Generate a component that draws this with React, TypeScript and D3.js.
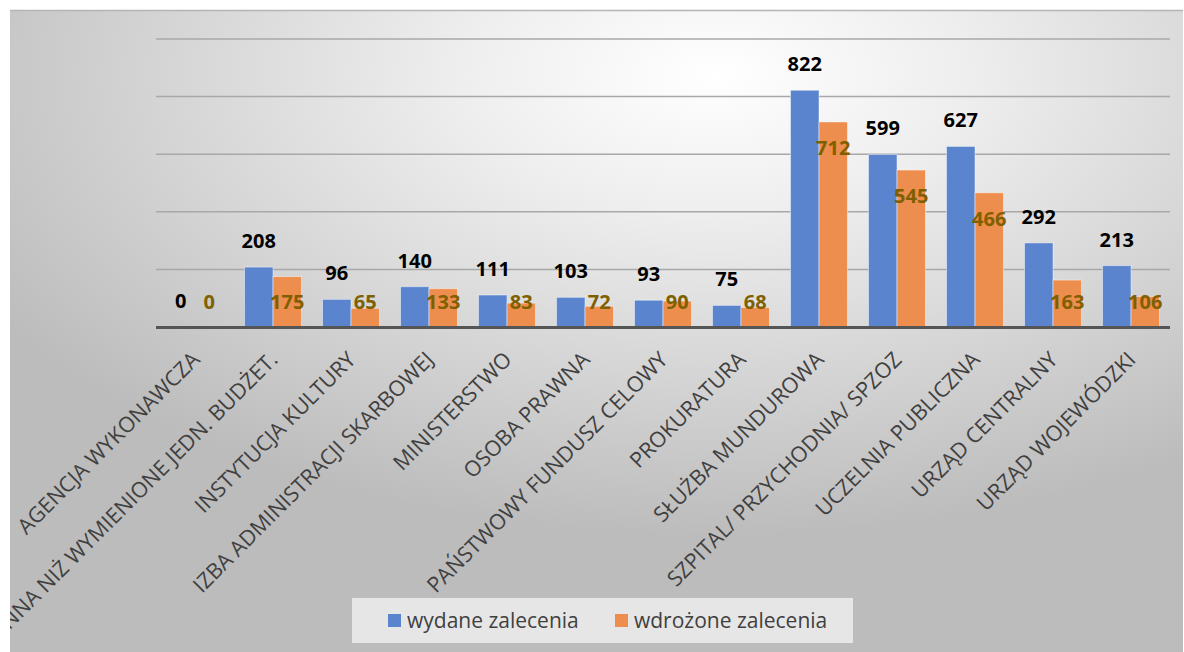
import * as d3 from "d3";

const categories = [
  "AGENCJA WYKONAWCZA",
  "INNA NIŻ WYMIENIONE JEDN. BUDŻET.",
  "INSTYTUCJA KULTURY",
  "IZBA ADMINISTRACJI SKARBOWEJ",
  "MINISTERSTWO",
  "OSOBA PRAWNA",
  "PAŃSTWOWY FUNDUSZ CELOWY",
  "PROKURATURA",
  "SŁUŻBA MUNDUROWA",
  "SZPITAL/ PRZYCHODNIA/ SPZOZ",
  "UCZELNIA PUBLICZNA",
  "URZĄD CENTRALNY",
  "URZĄD WOJEWÓDZKI",
];
const wydane = [0, 208, 96, 140, 111, 103, 93, 75, 822, 599, 627, 292, 213];
const wdrozone = [0, 175, 65, 133, 83, 72, 90, 68, 712, 545, 466, 163, 106];
const seriesNames = ["wydane zalecenia", "wdrożone zalecenia"];
const gridTicks = [200, 400, 600, 800, 1000];

const W = 1184;
const H = 652;
const plot = { left: 156, right: 1170, top: 39, bottom: 327 };
const BLUE = "#5B84CE";
const ORANGE = "#EE8E4E";
const FONT = "'Open Sans', 'Noto Sans', sans-serif";

export default function App() {
  const x0 = d3
    .scaleBand<string>()
    .domain(categories)
    .range([plot.left, plot.right])
    .paddingInner(0.27)
    .paddingOuter(0.135);
  const x1 = d3
    .scaleBand<string>()
    .domain(seriesNames)
    .range([0, x0.bandwidth()]);
  const y = d3.scaleLinear().domain([0, 1000]).range([plot.bottom, plot.top]);

  const rows = categories.map((c, i) => ({ c, a: wydane[i], b: wdrozone[i] }));

  return (
    <svg
      width={W}
      height={H}
      style={{ position: "absolute", left: 0, top: 0 }}
      fontFamily={FONT}
    >
      <defs>
        <radialGradient id="bg" cx="0.6" cy="0.1" r="0.72" gradientUnits="objectBoundingBox">
          <stop offset="0" stopColor="#ffffff" />
          <stop offset="0.3" stopColor="#eeeeee" />
          <stop offset="1" stopColor="#bcbcbc" />
        </radialGradient>
        <clipPath id="panel">
          <rect x={10} y={10} width={1173} height={H - 10} />
        </clipPath>
      </defs>
      <rect x={0} y={0} width={W} height={H} fill="#ffffff" />
      <rect x={10} y={10} width={1173} height={H - 10} fill="url(#bg)" />
      <line x1={10} x2={1183} y1={10.5} y2={10.5} stroke="#b5b5b5" strokeWidth={1.5} />

      {gridTicks.map((t) => (
        <line
          key={t}
          x1={plot.left}
          x2={plot.right}
          y1={y(t)}
          y2={y(t)}
          stroke="#a8a8a8"
          strokeWidth={1.5}
        />
      ))}

      {rows.map((r) => {
        const cx = x0(r.c)!;
        return (
          <g key={r.c}>
            <rect
              x={cx + x1(seriesNames[0])!}
              y={y(r.a)}
              width={x1.bandwidth()}
              height={plot.bottom - y(r.a)}
              fill={BLUE}
              stroke="rgba(255,255,255,0.45)"
              strokeWidth={1}
            />
            <rect
              x={cx + x1(seriesNames[1])!}
              y={y(r.b)}
              width={x1.bandwidth()}
              height={plot.bottom - y(r.b)}
              fill={ORANGE}
              stroke="rgba(255,255,255,0.45)"
              strokeWidth={1}
            />
          </g>
        );
      })}

      <line
        x1={plot.left}
        x2={plot.right}
        y1={plot.bottom + 0.5}
        y2={plot.bottom + 0.5}
        stroke="#555555"
        strokeWidth={3}
      />

      {rows.map((r) => {
        const cx = x0(r.c)!;
        const bw = x1.bandwidth();
        const ax = cx + x1(seriesNames[0])! + bw / 2;
        const bx = cx + x1(seriesNames[1])! + bw / 2;
        const ay = y(r.a) - 26;
        const by = Math.min(y(r.b) + 26, plot.bottom - 25);
        return (
          <g key={r.c} fontWeight="bold" fontSize={20} textAnchor="middle">
            <text x={ax} y={ay} dy="0.35em" fill="#000000">
              {r.a}
            </text>
            <text x={bx} y={by} dy="0.35em" fill="#7F6000">
              {r.b}
            </text>
          </g>
        );
      })}

      <g clipPath="url(#panel)">
        {categories.map((c) => {
          const cx = x0(c)! + x0.bandwidth() / 2;
          return (
            <text
              key={c}
              transform={`translate(${cx + 6},361) rotate(-45)`}
              textAnchor="end"
              fontSize={21.5}
              fill="#404040"
            >
              {c}
            </text>
          );
        })}
      </g>

      <rect x={352} y={598} width={501} height={45} fill="#e6e6e6" />
      <rect x={388} y={614} width={13} height={13} fill={BLUE} />
      <text x={407} y={620.5} dy="0.35em" fontSize={21} fill="#404040">
        {seriesNames[0]}
      </text>
      <rect x={615} y={614} width={13} height={13} fill={ORANGE} />
      <text x={634} y={620.5} dy="0.35em" fontSize={21} fill="#404040">
        {seriesNames[1]}
      </text>
    </svg>
  );
}
